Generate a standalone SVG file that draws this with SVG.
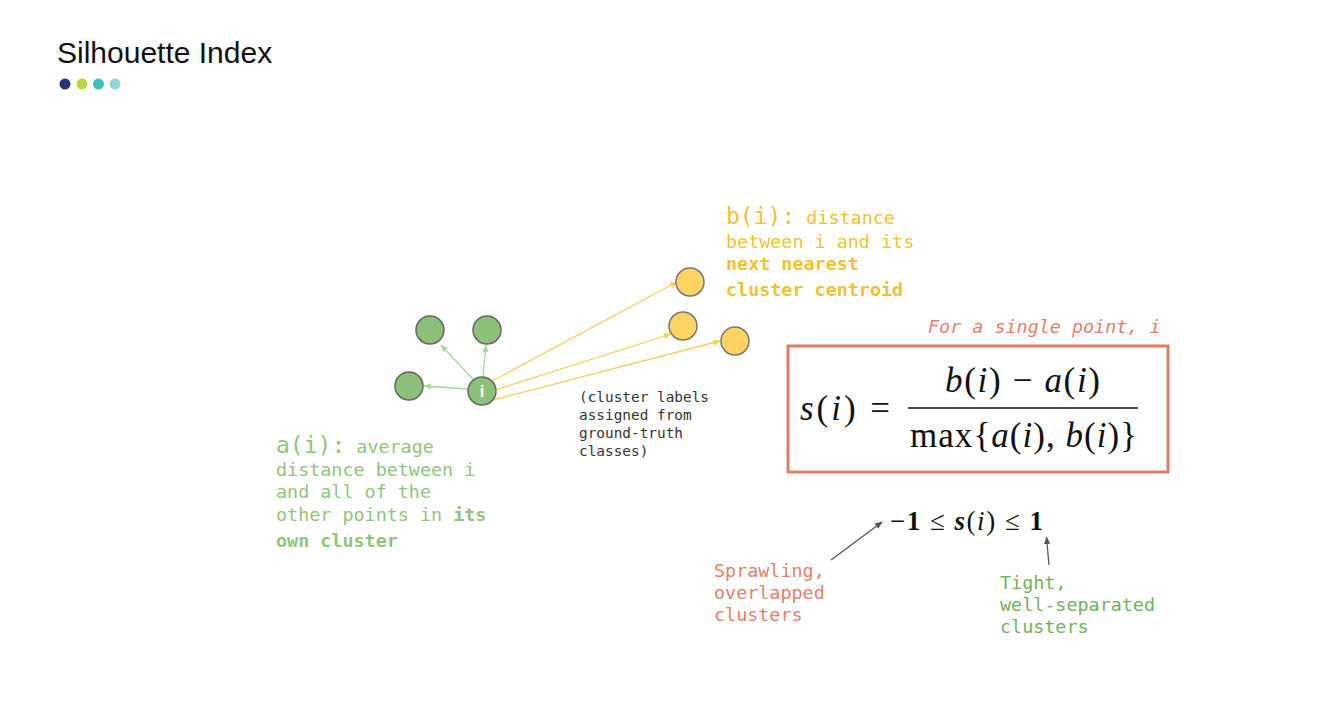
<svg xmlns="http://www.w3.org/2000/svg" width="1335" height="703" viewBox="0 0 1335 703">
<defs>
<style>
.mono{font-family:"DejaVu Sans Mono","Liberation Mono",monospace;font-size:18.4px}
.b{font-weight:bold}
.grn{fill:#93c47d}
.yel{fill:#f1c232}
.sal{fill:#e5806c}
.math{font-family:"Liberation Serif","DejaVu Serif",serif;fill:#111}
.it{font-style:italic}
.gnode{fill:#8cc079;stroke:#666;stroke-width:1.5}
.ynode{fill:#fdd463;stroke:#777;stroke-width:1.5}
.gl{stroke:#a9d69a;stroke-width:1.3;fill:none}
.yl{stroke:#f8cf5a;stroke-width:1.3;fill:none}
.kl{stroke:#555;stroke-width:1.3;fill:none}
.small{font-size:14.4px;fill:#333}
.tg{fill:#76b05e}
</style>
<marker id="ga" viewBox="0 0 10 10" refX="9" refY="5" markerWidth="6" markerHeight="6" orient="auto"><path d="M0,1 L10,5 L0,9 z" fill="#a9d69a"/></marker>
<marker id="ya" viewBox="0 0 10 10" refX="9" refY="5" markerWidth="6" markerHeight="6" orient="auto"><path d="M0,1 L10,5 L0,9 z" fill="#f8cf5a"/></marker>
<marker id="ka" viewBox="0 0 10 10" refX="9" refY="5" markerWidth="6" markerHeight="6" orient="auto"><path d="M0,1 L10,5 L0,9 z" fill="#555"/></marker>
</defs>
<rect width="1335" height="703" fill="#fff"/>
<g id="title">
<text x="57" y="63" font-family="Liberation Sans,Arial,sans-serif" font-size="30" fill="#111">Silhouette Index</text>
<circle cx="65" cy="84" r="5.5" fill="#2b3278"/>
<circle cx="82" cy="84" r="5.5" fill="#bfd43f"/>
<circle cx="98.5" cy="84" r="5.5" fill="#3fbfc4"/>
<circle cx="115" cy="84" r="5.5" fill="#8ed9df"/>
</g>
<g id="connectors">
<line class="gl" x1="473" y1="379" x2="441" y2="345" marker-end="url(#ga)"/>
<line class="gl" x1="483" y1="377" x2="486" y2="345" marker-end="url(#ga)"/>
<line class="gl" x1="468" y1="389" x2="424" y2="386" marker-end="url(#ga)"/>
<line class="yl" x1="492" y1="381" x2="677" y2="282" marker-end="url(#ya)"/>
<line class="yl" x1="495" y1="390" x2="671" y2="334" marker-end="url(#ya)"/>
<line class="yl" x1="493" y1="400" x2="720" y2="341" marker-end="url(#ya)"/>
<line class="kl" x1="831" y1="560" x2="882" y2="522" marker-end="url(#ka)"/>
<line class="kl" x1="1049" y1="565" x2="1046.5" y2="537" marker-end="url(#ka)"/>
</g>
<g id="node-g1"><circle class="gnode" cx="430" cy="330" r="14"/></g>
<g id="node-g2"><circle class="gnode" cx="487" cy="330" r="14"/></g>
<g id="node-g3"><circle class="gnode" cx="409" cy="386" r="14"/></g>
<g id="node-i"><circle class="gnode" cx="482" cy="391" r="14"/>
<text x="482" y="397" text-anchor="middle" font-family="Liberation Sans,Arial,sans-serif" font-size="17" font-weight="bold" fill="#fff">i</text></g>
<g id="node-y1"><circle class="ynode" cx="690" cy="282" r="14"/></g>
<g id="node-y2"><circle class="ynode" cx="683" cy="326" r="14"/></g>
<g id="node-y3"><circle class="ynode" cx="735" cy="341" r="14"/></g>
<g id="label-b">
<text class="mono yel" x="726" y="224"><tspan font-size="23">b(i):</tspan> distance</text>
<text class="mono yel" x="726" y="248">between i and its</text>
<text class="mono yel b" x="726" y="270">next nearest</text>
<text class="mono yel b" x="726" y="296">cluster centroid</text>
</g>
<g id="label-a">
<text class="mono grn" x="276" y="453"><tspan font-size="23">a(i):</tspan> average</text>
<text class="mono grn" x="276" y="476">distance between i</text>
<text class="mono grn" x="276" y="498">and all of the</text>
<text class="mono grn" x="276" y="521">other points in <tspan class="b">its</tspan></text>
<text class="mono grn b" x="276" y="547">own cluster</text>
</g>
<g id="label-gt">
<text class="mono small" x="579" y="402">(cluster labels</text>
<text class="mono small" x="579" y="420">assigned from</text>
<text class="mono small" x="579" y="438">ground-truth</text>
<text class="mono small" x="579" y="456">classes)</text>
</g>
<g id="formula">
<text class="mono sal" x="928" y="333" font-style="italic">For a single point, i</text>
<rect x="788" y="346" width="380" height="126" fill="none" stroke="#dd7e6b" stroke-width="3"/>
<text class="math" x="800" y="420" font-size="35" textLength="90" lengthAdjust="spacing"><tspan class="it">s</tspan>(<tspan class="it">i</tspan>) =</text>
<line x1="908" y1="408" x2="1138" y2="408" stroke="#111" stroke-width="1.6"/>
<text class="math" x="945" y="392" font-size="35" textLength="155" lengthAdjust="spacing"><tspan class="it">b</tspan>(<tspan class="it">i</tspan>) − <tspan class="it">a</tspan>(<tspan class="it">i</tspan>)</text>
<text class="math" x="910" y="447" font-size="35" textLength="227" lengthAdjust="spacing">max{<tspan class="it">a</tspan>(<tspan class="it">i</tspan>), <tspan class="it">b</tspan>(<tspan class="it">i</tspan>)}</text>
</g>
<g id="range">
<text class="math" x="890" y="530" font-size="27" textLength="153" lengthAdjust="spacing">−<tspan font-weight="bold">1</tspan> ≤ <tspan class="it" font-weight="bold">s</tspan>(<tspan class="it">i</tspan>) ≤ <tspan font-weight="bold">1</tspan></text>
</g>
<g id="label-low">
<text class="mono sal" x="714" y="577">Sprawling,</text>
<text class="mono sal" x="714" y="599">overlapped</text>
<text class="mono sal" x="714" y="621">clusters</text>
</g>
<g id="label-high">
<text class="mono tg" x="1000" y="589">Tight,</text>
<text class="mono tg" x="1000" y="611">well-separated</text>
<text class="mono tg" x="1000" y="633">clusters</text>
</g>
</svg>
